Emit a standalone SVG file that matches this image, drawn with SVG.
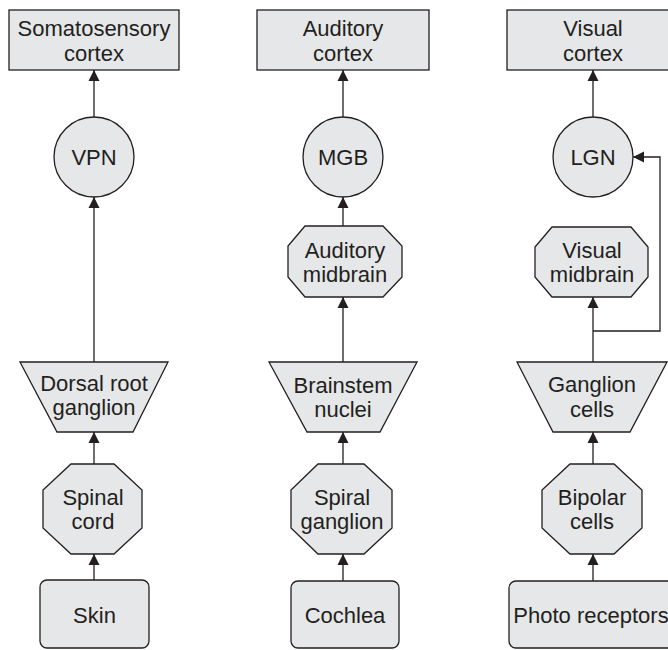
<svg xmlns="http://www.w3.org/2000/svg" width="668" height="650" viewBox="0 0 668 650">
<defs>
<style>
.n{fill:#e6e7e8;stroke:#231f20;stroke-width:1.3}
.t{font-family:"Liberation Sans",Arial,Helvetica,sans-serif;font-size:22px;fill:#231f20;text-anchor:middle}
.c{fill:none;stroke:#231f20;stroke-width:1.3}
</style>
<marker id="ah" markerUnits="userSpaceOnUse" markerWidth="12" markerHeight="12" refX="11" refY="5.5" orient="auto" viewBox="0 0 12 11">
<path d="M0,0 L11,5.5 L0,11 z" fill="#231f20"/>
</marker>
</defs>
<rect width="668" height="650" fill="#ffffff"/>
<g id="connectors">
<line class="c" x1="94" y1="117" x2="94" y2="70" marker-end="url(#ah)"/>
<line class="c" x1="94" y1="362" x2="94" y2="197" marker-end="url(#ah)"/>
<line class="c" x1="94" y1="464" x2="94" y2="432" marker-end="url(#ah)"/>
<line class="c" x1="94" y1="580" x2="94" y2="554" marker-end="url(#ah)"/>
<line class="c" x1="343" y1="117" x2="343" y2="70" marker-end="url(#ah)"/>
<line class="c" x1="343" y1="226" x2="343" y2="197" marker-end="url(#ah)"/>
<line class="c" x1="343" y1="362" x2="343" y2="297" marker-end="url(#ah)"/>
<line class="c" x1="343" y1="464" x2="343" y2="432" marker-end="url(#ah)"/>
<line class="c" x1="343" y1="581" x2="343" y2="554" marker-end="url(#ah)"/>
<line class="c" x1="593" y1="117" x2="593" y2="70" marker-end="url(#ah)"/>
<line class="c" x1="593" y1="362" x2="593" y2="297" marker-end="url(#ah)"/>
<polyline class="c" points="593,331 660,331 660,157 633,157" marker-end="url(#ah)"/>
<line class="c" x1="593" y1="464" x2="593" y2="432" marker-end="url(#ah)"/>
<line class="c" x1="593" y1="581" x2="593" y2="554" marker-end="url(#ah)"/>
</g>
<g id="somatosensory-cortex">
<rect class="n" x="9" y="10" width="170" height="60"/>
<text class="t" x="94" y="36">Somatosensory</text>
<text class="t" x="94" y="61">cortex</text>
</g>
<g id="vpn">
<circle class="n" cx="94" cy="157" r="40"/>
<text class="t" x="94" y="165">VPN</text>
</g>
<g id="dorsal-root-ganglion">
<polygon class="n" points="20,362 168,362 133,432 57,432"/>
<text class="t" x="94" y="391">Dorsal root</text>
<text class="t" x="94" y="415">ganglion</text>
</g>
<g id="spinal-cord">
<polygon class="n" points="71,464 114,464 142,490 142,528 114,554 71,554 43,528 43,490"/>
<text class="t" x="93" y="505">Spinal</text>
<text class="t" x="93" y="529">cord</text>
</g>
<g id="skin">
<rect class="n" x="40" y="580" width="109" height="68" rx="7"/>
<text class="t" x="94.5" y="623">Skin</text>
</g>
<g id="auditory-cortex">
<rect class="n" x="257" y="10" width="172" height="60"/>
<text class="t" x="343" y="36">Auditory</text>
<text class="t" x="343" y="61">cortex</text>
</g>
<g id="mgb">
<circle class="n" cx="343" cy="157" r="40"/>
<text class="t" x="343" y="165">MGB</text>
</g>
<g id="auditory-midbrain">
<polygon class="n" points="305,226 383,226 402,246 402,277 383,297 305,297 288,277 288,246"/>
<text class="t" x="345" y="258">Auditory</text>
<text class="t" x="345" y="282">midbrain</text>
</g>
<g id="brainstem-nuclei">
<polygon class="n" points="269,362 417,362 380,432 307,432"/>
<text class="t" x="343" y="393">Brainstem</text>
<text class="t" x="343" y="417">nuclei</text>
</g>
<g id="spiral-ganglion">
<polygon class="n" points="318,464 364,464 392,490 392,528 364,554 318,554 291,528 291,490"/>
<text class="t" x="342" y="505">Spiral</text>
<text class="t" x="342" y="529">ganglion</text>
</g>
<g id="cochlea">
<rect class="n" x="291" y="581" width="108" height="67" rx="7"/>
<text class="t" x="345" y="623">Cochlea</text>
</g>
<g id="visual-cortex">
<rect class="n" x="507" y="10" width="172" height="60"/>
<text class="t" x="593" y="36">Visual</text>
<text class="t" x="593" y="61">cortex</text>
</g>
<g id="lgn">
<circle class="n" cx="593" cy="157" r="40"/>
<text class="t" x="593" y="165">LGN</text>
</g>
<g id="visual-midbrain">
<polygon class="n" points="552,227 631,227 648,247 648,277 631,297 552,297 535,277 535,247"/>
<text class="t" x="592" y="258">Visual</text>
<text class="t" x="592" y="282">midbrain</text>
</g>
<g id="ganglion-cells">
<polygon class="n" points="517,362 667,362 630,432 553,432"/>
<text class="t" x="592" y="392">Ganglion</text>
<text class="t" x="592" y="417">cells</text>
</g>
<g id="bipolar-cells">
<polygon class="n" points="570,464 614,464 642,490 642,528 614,554 570,554 542,528 542,490"/>
<text class="t" x="592" y="505">Bipolar</text>
<text class="t" x="592" y="529">cells</text>
</g>
<g id="photo-receptors">
<rect class="n" x="509" y="581" width="166" height="67" rx="7"/>
<text class="t" x="591" y="623">Photo receptors</text>
</g>
</svg>
